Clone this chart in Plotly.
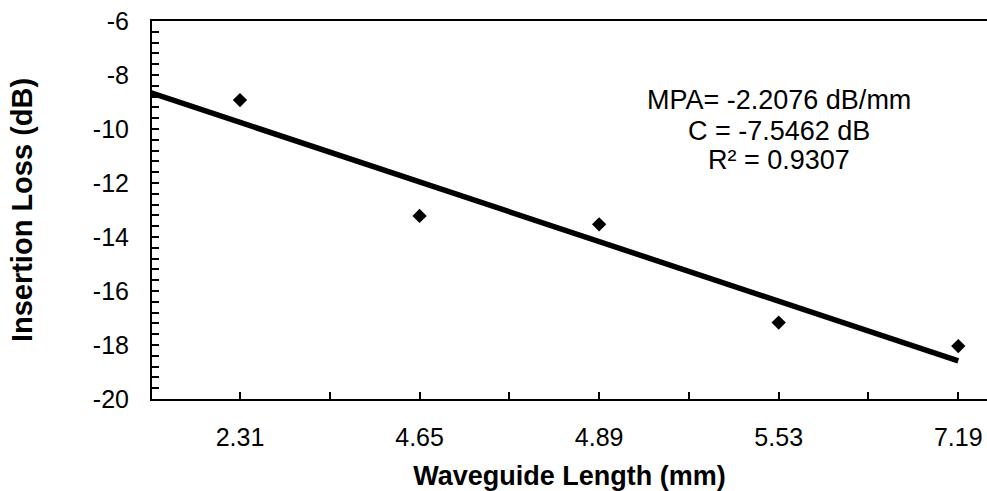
import plotly.graph_objects as go

categories = ["2.31", "4.65", "4.89", "5.53", "7.19"]
insertion_loss = [-8.93, -13.22, -13.53, -17.17, -18.04]
slope = -2.2076
intercept = -7.5462
y_ticks = [-20, -18, -16, -14, -12, -10, -8, -6]
y_tick_text = ["-20", "-18", "-16", "-14", "-12", "-10", "-8", "-6"]
fit_lines = ["MPA= -2.2076 dB/mm", "C = -7.5462 dB", "R² = 0.9307"]

idx = list(range(len(categories)))
trend_x = [-0.5, len(categories) - 1]
trend_y = [slope * (x + 1) + intercept for x in trend_x]

FONT = "Liberation Sans, Arial, sans-serif"

fig = go.Figure()
fig.add_trace(go.Scatter(x=trend_x, y=trend_y, mode="lines",
                         line=dict(color="black", width=5.5), showlegend=False))
fig.add_trace(go.Scatter(x=idx, y=insertion_loss, mode="markers",
                         marker=dict(symbol="diamond", size=11, color="black"),
                         showlegend=False))

for txt, yy in zip(fit_lines, [-8.93, -10.07, -11.15]):
    fig.add_annotation(x=3.0, y=yy, xref="x", yref="y", text=txt,
                       showarrow=False, align="center",
                       font=dict(family=FONT, size=27, color="black"))

fig.update_layout(
    width=987, height=491,
    margin=dict(l=152, r=0, t=21, b=92),
    paper_bgcolor="white", plot_bgcolor="white",
    font=dict(family=FONT, color="black"),
)
fig.update_xaxes(
    range=[-0.49, 4.16], tickvals=idx, ticktext=categories,
    ticks="inside", ticklen=7, tickwidth=1.5, tickcolor="black",
    minor=dict(dtick=0.5, tick0=-0.5, ticks="inside", ticklen=7, tickwidth=1.5, tickcolor="black"),
    showline=True, linecolor="black", linewidth=2, mirror=True,
    showgrid=False, zeroline=False, ticklabeloverflow="allow", automargin=False,
    tickfont=dict(size=25, family=FONT), ticklabelstandoff=15,
    title=dict(text="<b>Waveguide Length (mm)</b>", font=dict(size=27, family=FONT), standoff=26),
)
fig.update_yaxes(
    range=[-20, -6], tickvals=y_ticks, ticktext=y_tick_text,
    ticks="inside", ticklen=7, tickwidth=1.5, tickcolor="black",
    minor=dict(dtick=0.4, tick0=-20, ticks="inside", ticklen=7, tickwidth=1.5, tickcolor="black"),
    showline=True, linecolor="black", linewidth=2, mirror=False,
    showgrid=False, zeroline=False, ticklabeloverflow="allow", automargin=False,
    tickfont=dict(size=25, family=FONT), ticklabelstandoff=16,
    title=dict(text="<b>Insertion Loss (dB)</b>", font=dict(size=29, family=FONT), standoff=52),
)

fig.write_html("out.html", config={"displayModeBar": False},
               post_script="document.body.style.margin='0';document.body.style.overflow='hidden';")
